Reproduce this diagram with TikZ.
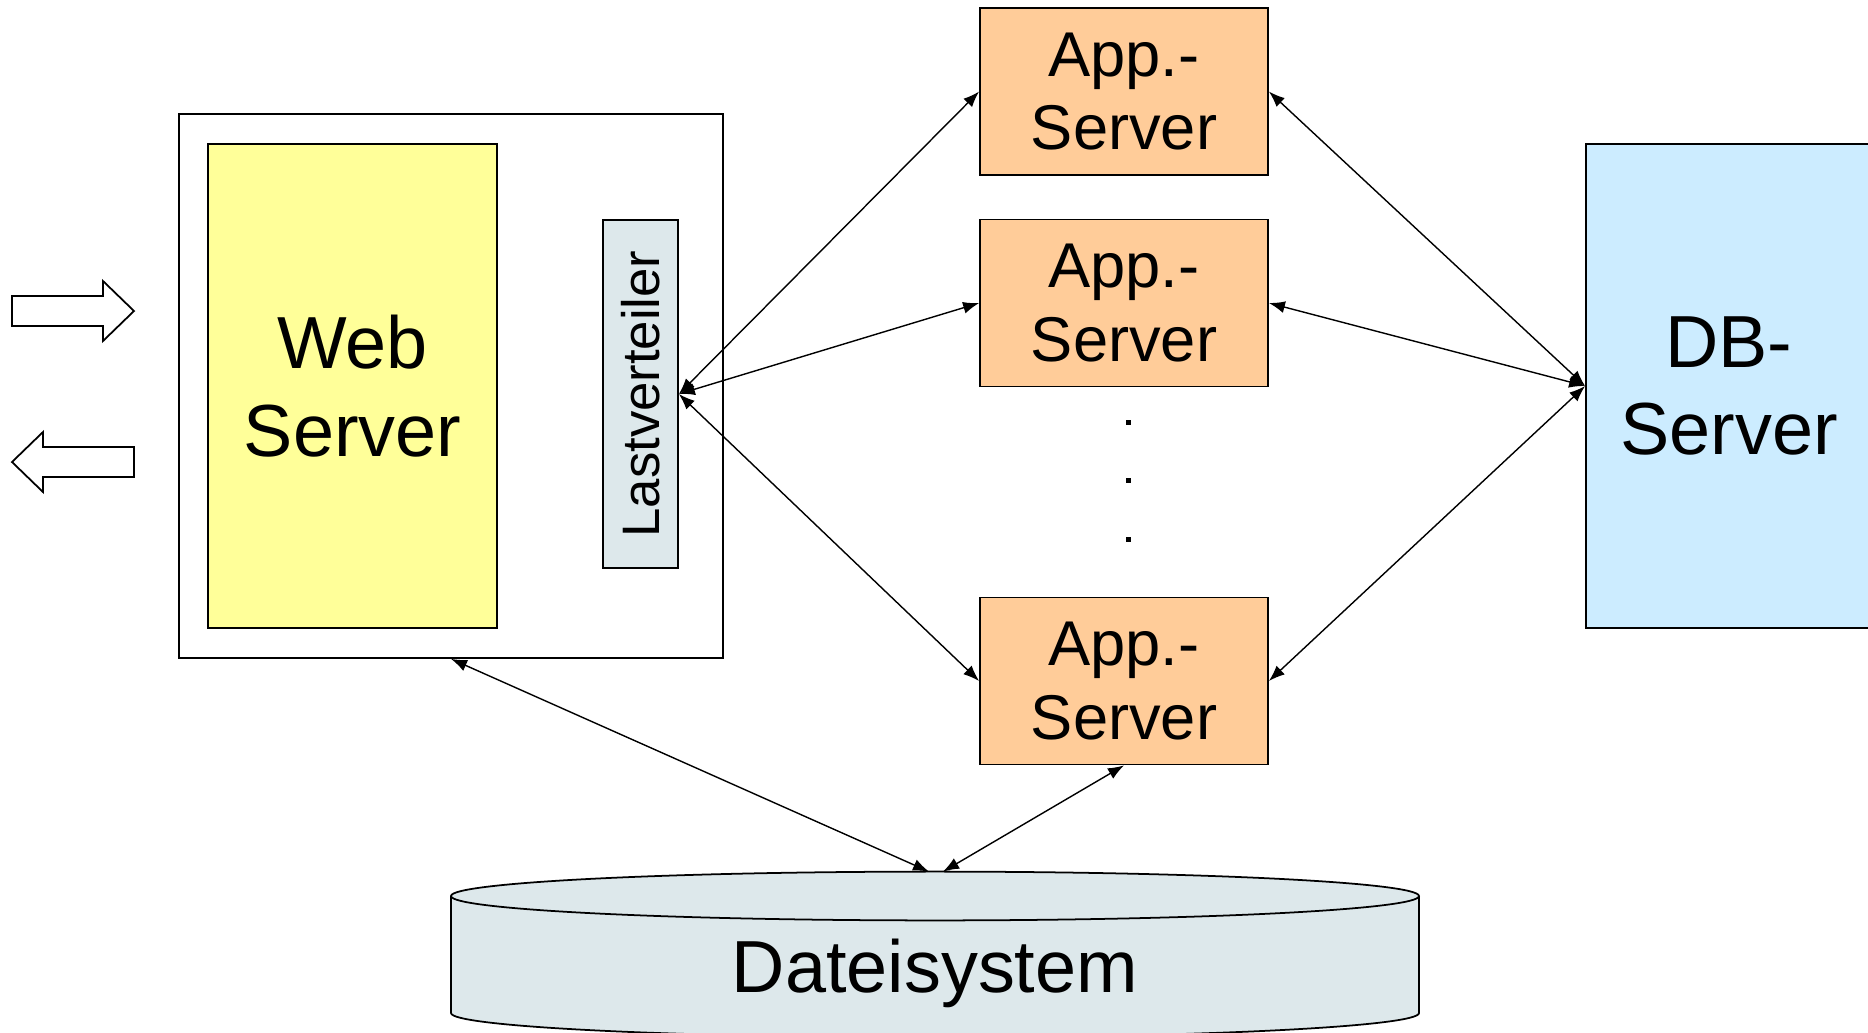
\documentclass[tikz,border=0pt]{standalone}
\usepackage{fontspec}
\setmainfont{Liberation Sans}
\usepackage{tikz}
\usetikzlibrary{arrows.meta,positioning}

\definecolor{webyellow}{HTML}{FFFF99}
\definecolor{apporange}{HTML}{FFCC99}
\definecolor{dbblue}{HTML}{CCECFF}
\definecolor{fsgray}{HTML}{DDE8EB}

\begin{document}
\begin{tikzpicture}[
    box/.style={rectangle, draw, line width=0.5pt, inner sep=0pt, align=center},
    app/.style={box, fill=apporange, minimum width=2.88cm, minimum height=1.67cm, font=\fontsize{18}{21}\selectfont},
    link/.style={{Latex[length=1.6mm,width=1.2mm]}-{Latex[length=1.6mm,width=1.2mm]}, line width=0.4pt},
    hollow/.style={draw, line width=0.5pt, fill=white}
]
\useasboundingbox (0,0) rectangle (18.68,10.32);

% Client requests
\draw[hollow] (0.12,7.36) -- (1.03,7.36) -- (1.03,7.51) -- (1.34,7.21) -- (1.03,6.91)
    -- (1.03,7.06) -- (0.12,7.06) -- cycle;
\draw[hollow] (0.12,5.70) -- (0.43,6.00) -- (0.43,5.85) -- (1.34,5.85) -- (1.34,5.55)
    -- (0.43,5.55) -- (0.43,5.40) -- cycle;

% Web server with load balancer
\node[box, fill=white, minimum width=5.44cm, minimum height=5.44cm] (host) at (4.51,6.46) {};
\node[box, fill=webyellow, minimum width=2.89cm, minimum height=4.84cm,
    font=\fontsize{21}{25}\selectfont] (web) at (3.525,6.46) {Web\\Server};
\node[box, fill=fsgray, minimum width=3.48cm, minimum height=0.75cm, rotate=90,
    font=\fontsize{15}{18}\selectfont] (lb) at (6.405,6.38) {Lastverteiler};

% Application servers
\foreach \n/\y in {1/9.405, 2/7.29, 3/3.51} {
    \node[app] (app\n) at (11.24,\y) {App.-\\Server};
}
\foreach \y in {6.07,5.49,4.90} {
    \fill (11.255,\y) rectangle ++(0.05,0.05);
}

% Database server
\node[box, fill=dbblue, minimum width=2.86cm, minimum height=4.84cm,
    font=\fontsize{21}{25}\selectfont] (db) at (17.29,6.46) {DB-\\Server};

% File system
\fill[fsgray] (4.51,1.36) -- (4.51,0.19) arc[start angle=180, end angle=360, x radius=4.84, y radius=0.244]
    -- (14.19,1.36) arc[start angle=0, end angle=180, x radius=4.84, y radius=0.244] -- cycle;
\draw[line width=0.5pt] (4.51,1.36) -- (4.51,0.19) arc[start angle=180, end angle=360, x radius=4.84, y radius=0.244]
    -- (14.19,1.36);
\draw[line width=0.5pt] (9.35,1.36) ellipse[x radius=4.84, y radius=0.244];
\node[font=\fontsize{21}{25}\selectfont] (fs) at (9.35,0.59) {Dateisystem};
\coordinate (fsa) at (9.29,1.604);
\coordinate (fsb) at (9.43,1.604);

% Connections
\foreach \n in {1,2,3} {
    \draw[link] (lb.south) -- (app\n.west);
    \draw[link] (app\n.east) -- (db.west);
}
\draw[link] (host.south) -- (fsa);
\draw[link] (app3.south) -- (fsb);

\end{tikzpicture}
\end{document}
